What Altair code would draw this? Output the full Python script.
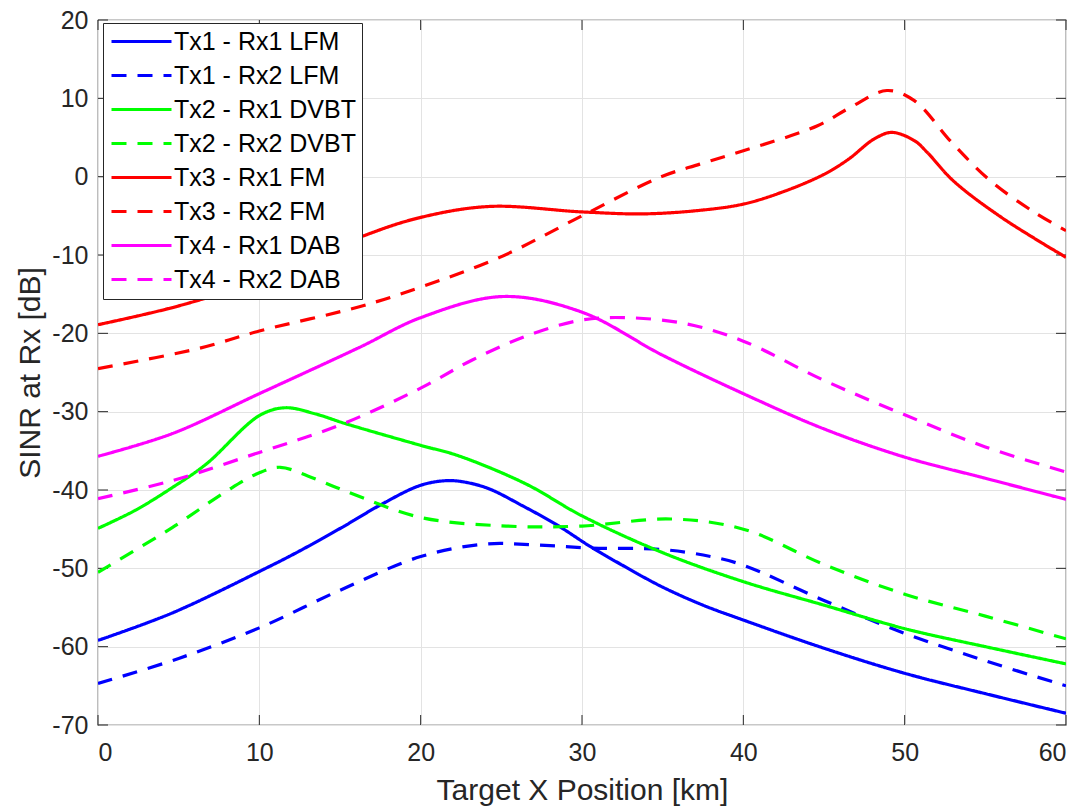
import altair as alt
import pandas as pd

# ---- data ----
series_names = ["Tx1 - Rx1 LFM", "Tx1 - Rx2 LFM", "Tx2 - Rx1 DVBT", "Tx2 - Rx2 DVBT",
                "Tx3 - Rx1 FM", "Tx3 - Rx2 FM", "Tx4 - Rx1 DAB", "Tx4 - Rx2 DAB"]
series_colors = ["#0000FF", "#0000FF", "#00FF00", "#00FF00",
                 "#FF0000", "#FF0000", "#FF00FF", "#FF00FF"]
series_dashes = [[1, 0], [15, 11], [1, 0], [15, 11], [1, 0], [15, 11], [1, 0], [15, 11]]

lfm_rx1_x = [0, 4.6, 10.2, 12.3, 15.1, 17.6, 20, 21.7, 23, 24.3, 26.3, 28.4, 30.5, 32.5, 35, 37.5, 40, 45, 50, 55, 60]
lfm_rx1_y = [-59.2, -55.7, -50.2, -48.0, -44.8, -41.8, -39.4, -38.8, -39.1, -39.9, -42.0, -44.4, -47.2, -49.6, -52.4, -54.7, -56.6, -60.2, -63.4, -66.0, -68.5]

lfm_rx2_x = [0, 5, 10, 15, 20, 24, 27, 30.5, 35, 38, 40, 45, 50, 55, 60]
lfm_rx2_y = [-64.7, -61.5, -57.6, -52.8, -48.5, -46.9, -47.0, -47.4, -47.6, -48.5, -49.6, -54.1, -58.3, -61.8, -65.0]

dvbt_rx1_x = [0, 2.3, 4.6, 6.7, 10, 11.6, 13.5, 15.3, 20, 22.3, 26.5, 30, 35, 40, 45, 50, 55, 60]
dvbt_rx1_y = [-44.9, -42.6, -39.7, -36.7, -30.5, -29.5, -30.3, -31.5, -34.3, -35.6, -39.2, -43.3, -48.0, -51.7, -54.7, -57.7, -60.0, -62.2]

dvbt_rx2_x = [0, 4.6, 8, 10, 11.3, 13, 15.3, 20, 25.3, 30, 35.5, 40, 45, 50, 55, 60]
dvbt_rx2_y = [-50.5, -44.8, -40.1, -37.8, -37.1, -38.2, -40.1, -43.5, -44.6, -44.6, -43.7, -45.0, -49.5, -53.3, -56.1, -59.0]

fm_rx1_x = [0, 5, 10, 16.4, 20, 24.3, 30, 33.8, 37.3, 40, 42.5, 45, 46.5, 48.1, 49.2, 50.6, 51.4, 53, 56, 60]
fm_rx1_y = [-18.9, -16.5, -13.2, -7.6, -5.2, -3.8, -4.5, -4.75, -4.3, -3.5, -1.9, 0.3, 2.2, 4.8, 5.65, 4.6, 3.1, -0.5, -5.2, -10.3]

fm_rx2_x = [0, 6.3, 10, 16.2, 20, 24.9, 30, 34.8, 37.3, 40, 44.6, 46.6, 48.9, 50.6, 52.9, 55.3, 58, 60]
fm_rx2_y = [-24.5, -21.9, -19.7, -16.6, -14.1, -10.3, -5.0, -0.1, 1.6, 3.3, 6.5, 8.8, 11.0, 9.7, 4.4, -0.5, -4.5, -6.9]

dab_rx1_x = [0, 4.6, 10, 16.2, 20, 25.1, 30, 35, 40, 45, 50, 55, 60]
dab_rx1_y = [-35.7, -32.8, -27.7, -21.8, -18.0, -15.3, -17.3, -22.8, -27.7, -32.2, -35.8, -38.5, -41.2]

dab_rx2_x = [0, 4.6, 10, 15, 20, 23.2, 26.6, 30, 32.8, 36.5, 40, 45, 50, 55, 60]
dab_rx2_y = [-41.1, -38.8, -35.2, -31.7, -27.0, -23.4, -20.3, -18.3, -18.0, -18.8, -21.0, -26.0, -30.4, -34.5, -37.7]

x_ticks = [0, 10, 20, 30, 40, 50, 60]
y_ticks = [-70, -60, -50, -40, -30, -20, -10, 0, 10, 20]

# ---- build table ----
all_x = [lfm_rx1_x, lfm_rx2_x, dvbt_rx1_x, dvbt_rx2_x, fm_rx1_x, fm_rx2_x, dab_rx1_x, dab_rx2_x]
all_y = [lfm_rx1_y, lfm_rx2_y, dvbt_rx1_y, dvbt_rx2_y, fm_rx1_y, fm_rx2_y, dab_rx1_y, dab_rx2_y]
rows = []
for i, (name, xs, ys) in enumerate(zip(series_names, all_x, all_y)):
    for xv, yv in zip(xs, ys):
        rows.append({"series": name, "order": i, "x": xv, "y": yv})
df = pd.DataFrame(rows)

W, H = 968, 705
FONT = "Liberation Sans"
INK = "#262626"

xscale = alt.Scale(domain=[0, 60], nice=False, zero=False)
yscale = alt.Scale(domain=[-70, 20], nice=False, zero=False)

legend = alt.Legend(
    title=None, orient="none", legendX=5, legendY=3,
    symbolType="M-1,0H5", symbolSize=400, symbolStrokeWidth=3,
    labelFont=FONT, labelFontSize=25, labelColor="black", labelOffset=40,
    rowPadding=8, padding=6, strokeColor=INK, fillColor="white",
    labelLimit=400,
)

lines = alt.Chart(df).mark_line(strokeWidth=3.2, interpolate="catmull-rom", clip=True).encode(
    x=alt.X("x:Q", scale=xscale,
            axis=alt.Axis(values=x_ticks, title="Target X Position [km]", labelExpr="datum.value + ''")),
    y=alt.Y("y:Q", scale=yscale,
            axis=alt.Axis(values=y_ticks, title="SINR at Rx [dB]", labelExpr="datum.value + ''")),
    color=alt.Color("series:N", scale=alt.Scale(domain=series_names, range=series_colors), legend=legend),
    strokeDash=alt.StrokeDash("series:N", scale=alt.Scale(domain=series_names, range=series_dashes), legend=legend),
    order="order:Q",
)

xt = pd.DataFrame({"x": x_ticks})
yt = pd.DataFrame({"y": y_ticks})
tick_color = alt.value(INK)
xb = alt.Chart(xt).mark_rule(strokeWidth=1).encode(x=alt.X("x:Q", scale=xscale), y=alt.value(H), y2=alt.value(H - 10), color=tick_color)
xtop = alt.Chart(xt).mark_rule(strokeWidth=1).encode(x=alt.X("x:Q", scale=xscale), y=alt.value(0), y2=alt.value(10), color=tick_color)
yl = alt.Chart(yt).mark_rule(strokeWidth=1).encode(y=alt.Y("y:Q", scale=yscale), x=alt.value(0), x2=alt.value(10), color=tick_color)
yr = alt.Chart(yt).mark_rule(strokeWidth=1).encode(y=alt.Y("y:Q", scale=yscale), x=alt.value(W), x2=alt.value(W - 10), color=tick_color)

chart = alt.layer(xb, xtop, yl, yr, lines).properties(
    width=W, height=H,
    autosize=alt.AutoSizeParams(type="none"),
    padding={"left": 90, "top": 12, "right": 12, "bottom": 86},
).configure_view(
    stroke=INK, strokeWidth=1.2
).configure_axis(
    domain=False, ticks=False, grid=True, gridColor="#e3e3e3", gridWidth=1,
    labelFont=FONT, labelFontSize=25, labelColor=INK,
    titleFont=FONT, titleFontSize=30, titleColor=INK, titleFontWeight="normal",
).configure_axisX(
    labelPadding=15, titlePadding=10,
).configure_axisY(
    labelPadding=10, titlePadding=6,
)

chart.save("out.html", embed_options={"renderer": "svg", "actions": False})
